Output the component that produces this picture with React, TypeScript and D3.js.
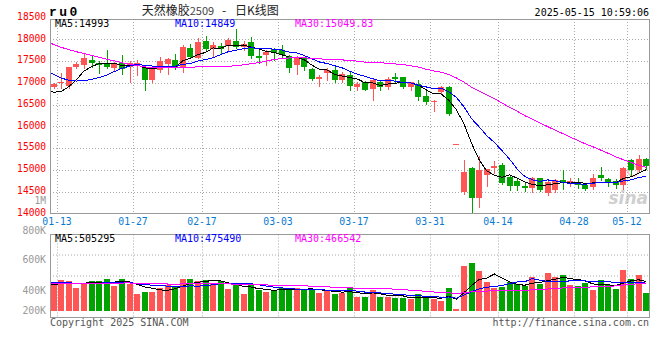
import React from "react";
import * as d3 from "d3";

// ---------- data ----------
const dates = [
  "01-13","01-14","01-15","01-16","01-17","01-20","01-21","01-22","01-23","01-24",
  "01-27","02-05","02-06","02-07","02-10","02-11","02-12","02-13","02-14","02-17",
  "02-18","02-19","02-20","02-21","02-24","02-25","02-26","02-27","02-28","03-03",
  "03-04","03-05","03-06","03-07","03-10","03-11","03-12","03-13","03-14","03-17",
  "03-18","03-19","03-20","03-21","03-24","03-25","03-26","03-27","03-28","03-31",
  "04-01","04-02","04-03","04-07","04-08","04-09","04-10","04-11","04-14","04-15",
  "04-16","04-17","04-18","04-21","04-22","04-23","04-24","04-25","04-28","04-29",
  "04-30","05-06","05-07","05-08","05-09","05-12","05-13","05-14","05-15",
];

const open = [
  16910,16995,16935,17375,17400,17535,17450,17450,17350,17460,
  17375,17415,17335,17055,17300,17430,17525,17330,17810,17565,
  17970,17780,17845,17855,17970,17815,17930,17625,17640,17770,
  17755,17620,17415,17565,17320,17085,17225,17300,17055,17185,
  16895,17015,16865,17010,16905,17125,17125,16905,16970,16705,
  16560,16780,16905,15585,14485,15040,14345,14885,15055,15105,
  14840,14750,14625,14595,14810,14460,14545,14770,14690,14710,
  14660,14610,14880,14785,14750,14645,15220,14995,15260,
];
const high = [
  16995,17225,17375,17470,17680,17640,17500,17755,17490,17640,
  17500,17520,17410,17375,17595,17560,17655,17870,17885,18020,
  18080,17945,17910,18020,18235,17960,18050,17755,17755,17810,
  17870,17650,17620,17605,17350,17185,17335,17360,17245,17260,
  17030,17045,17110,17045,17125,17220,17145,17030,17070,16805,
  16615,16920,16935,15585,15220,15060,15320,15030,15205,15170,
  14865,14825,14710,14840,14825,14750,14785,15000,14825,14810,
  14695,14900,15075,14825,14785,15070,15245,15335,15280,
];
const low = [
  16880,16880,16880,17330,17350,17375,17220,17335,17300,17210,
  17030,17170,16830,17015,17260,17200,17315,17260,17565,17560,
  17740,17620,17680,17755,17795,17755,17565,17465,17415,17525,
  17605,17260,17205,17300,17070,16920,17055,17010,17015,16840,
  16825,16825,16615,16840,16865,17030,16880,16840,16615,16525,
  16360,16765,16270,15585,14445,14040,14155,14635,14925,14675,
  14535,14545,14520,14485,14520,14430,14485,14560,14635,14595,
  14545,14560,14765,14635,14595,14565,14880,14960,15030,
];
const close = [
  16970,17010,17360,17435,17580,17460,17400,17375,17435,17320,
  17450,17465,17055,17315,17500,17540,17350,17815,17605,17945,
  17770,17870,17780,17975,17830,17890,17625,17575,17700,17695,
  17640,17350,17580,17375,17095,17145,17285,17055,17200,16920,
  16980,16840,17055,16895,17095,17085,16895,17015,16665,16555,
  16590,16905,16285,15585,14955,14345,15000,15015,15090,14705,
  14625,14625,14580,14810,14545,14725,14765,14710,14750,14660,
  14565,14825,14810,14695,14645,15055,15000,15245,15090,
];
// volume, thousands of lots
const volume = [
  474,507,497,430,484,497,497,517,450,517,
  474,370,390,390,430,457,447,517,517,497,
  507,484,497,417,457,370,457,414,390,397,
  427,430,430,407,414,380,397,374,380,430,
  340,340,414,340,340,330,330,317,370,330,
  317,297,430,217,650,680,600,490,434,440,
  490,474,450,540,474,580,540,557,460,447,
  484,407,507,460,417,607,517,557,380,
];
// sessions before the first visible day (only feed the moving averages)
const priorCloses = [
  19050,19000,18950,18900,18850,18800,18700,18650,18600,18580,
  18600,18200,18000,17800,17600,17500,17450,17500,17550,17650,
  17650,17900,17800,17670,17450,17220,16950,16800,16650,16560,
];
const priorVolumes = [
  470,460,480,450,470,490,455,475,465,480,
  460,470,485,450,475,465,480,460,470,455,
  485,500,520,490,510,500,450,470,460,466,
];

const priceTicks = [14000,14500,15000,15500,16000,16500,17000,17500,18000,18500];
const dateTicks = ["01-13","01-27","02-17","03-03","03-17","03-31","04-14","04-28","05-12"];
const volTicks = [200000,400000,600000,800000];
const volTickLabels = ["200K","400K","600K","800K"];
const maPeriods = [5, 10, 30];
const maColors = ["#000000", "#0000ff", "#ff00ff"];
const priceLegend = ["MA5:14993", "MA10:14849", "MA30:15049.83"];
const volLegend = ["MA5:505295", "MA10:475490", "MA30:466542"];

const UP = "#ff5555";
const DOWN = "#00a300";
const MONO = "'DejaVu Sans Mono', 'Liberation Mono', monospace";

export default function App() {
  const W = 660, H = 360;
  const L = 50, R = 649;
  const mainTop = 19, mainBottom = 213.5;
  const volTop = 234.5, volBottom = 317.5;
  const volBase = 311;

  const n = dates.length;
  const x = d3.scaleLinear().domain([0, n - 1]).range([53.5, 646.3]);
  const half = (x(1) - x(0)) / 2;
  const y = d3.scaleLinear().domain([14000, 18000]).range([213.5, 39.3]);
  const yv = d3.scaleLinear().domain([200000, 800000]).range([volBase, volBase - 60]);
  const volLabelY = d3.scaleLinear().domain(volTicks).range([314, 294, 263.3, 234]);
  const legendX = d3.scalePoint<number>().domain([0, 1, 2]).range([55, 295]);

  const snap = (v: number) => Math.round(v) + 0.5;

  const closesAll = [...priorCloses, ...close];
  const volsAll = [...priorVolumes, ...volume].map((v) => v * 1000);
  const P = priorCloses.length;
  const movingAvg = (series: number[], p: number) =>
    d3.range(-1, n).map((i) => {
      const j = i + P;
      return [i, d3.mean(series.slice(j - p + 1, j + 1)) as number] as [number, number];
    });

  const priceLine = d3.line<[number, number]>().x((d) => x(d[0])).y((d) => y(d[1]));
  const volLine = d3.line<[number, number]>().x((d) => x(d[0])).y((d) => yv(d[1]));

  const gridX = dateTicks.map((t) => snap(x(dates.indexOf(t)) + half));
  const volGridY = d3.range(1, 4).map((k) => snap(volTop + ((volBottom - volTop) * k) / 4) - 0.5);

  return (
    <svg
      width={W}
      height={H}
      viewBox={`0 0 ${W} ${H}`}
      style={{ position: "absolute", left: 0, top: 0, background: "#fff" }}
    >
      <defs>
        <clipPath id="mainClip">
          <rect x={L + 0.5} y={mainTop} width={R - L - 0.5} height={mainBottom - mainTop} />
        </clipPath>
        <clipPath id="volClip">
          <rect x={L + 0.5} y={volTop} width={R - L - 0.5} height={volBottom - volTop} />
        </clipPath>
      </defs>
      <rect x={0} y={0} width={W} height={H} fill="#fff" />

      {/* header */}
      <text x={49} y={15.7} fontFamily="'Liberation Mono', monospace" fontWeight="bold" fontSize={13} letterSpacing={2.4} fill="#000">
        ru0
      </text>
      <text x={141.7} y={14.5} fontFamily="'Noto Sans CJK SC', sans-serif" fontSize={12} fill="#222">
        天然橡胶<tspan fontSize={11} fill="#444">2509</tspan>
      </text>
      <text x={222} y={14.5} fontFamily="'Noto Sans CJK SC', sans-serif" fontSize={12} fill="#222">-</text>
      <text x={235} y={14.5} fontFamily="'Noto Sans CJK SC', sans-serif" fontSize={12} fill="#222">日K线图</text>
      <text x={649} y={15.7} textAnchor="end" fontFamily={MONO} fontSize={10} fill="#000">
        2025-05-15 10:59:06
      </text>

      {/* main panel grid */}
      {priceTicks
        .filter((v) => v > 14000 && v < 18500)
        .map((v) => (
          <line key={"hg" + v} x1={L} x2={R} y1={snap(y(v))} y2={snap(y(v))} stroke="#aaa" strokeDasharray="1,2" />
        ))}
      {gridX.map((gx, k) => (
        <line key={"vg" + k} x1={gx} x2={gx} y1={mainTop} y2={mainBottom} stroke="#aaa" strokeDasharray="1,2" />
      ))}

      {/* volume grid */}
      {volGridY.map((gy, k) => (
        <line key={"vhg" + k} x1={L} x2={R} y1={gy} y2={gy} stroke="#aaa" strokeDasharray="1,2" />
      ))}
      {gridX.map((gx, k) => (
        <line key={"vvg" + k} x1={gx} x2={gx} y1={volTop} y2={volBottom} stroke="#aaa" strokeDasharray="1,2" />
      ))}

      {/* watermark */}
      <g opacity={0.7}>
        <circle cx={633} cy={171} r={5} fill="none" stroke="#f0b0b0" strokeWidth={2} />
        <text x={648} y={204} textAnchor="end" fontFamily="'DejaVu Sans', sans-serif" fontStyle="italic" fontWeight="bold" fontSize={17} fill="#bbb">
          sina
        </text>
      </g>

      {/* candles */}
      <g>
        {dates.map((d, i) => {
          const o = open[i], c = close[i], h = high[i], l = low[i];
          const col = c >= o ? UP : DOWN;
          const cx = Math.round(x(i));
          const top = Math.round(y(Math.max(o, c)));
          const bot = Math.round(y(Math.min(o, c)));
          return (
            <g key={"c" + d}>
              <line x1={cx + 0.5} x2={cx + 0.5} y1={Math.round(y(h))} y2={Math.round(y(l)) + 1} stroke={col} />
              <rect x={cx - 3} y={top} width={6} height={Math.max(1, bot - top)} fill={col} />
            </g>
          );
        })}
      </g>

      {/* price MAs */}
      <g clipPath="url(#mainClip)">
        {maPeriods.map((p, k) => (
          <path key={"ma" + p} d={priceLine(movingAvg(closesAll, p)) || ""} fill="none" stroke={maColors[k]} strokeWidth={1} shapeRendering="crispEdges" />
        ))}
      </g>

      {/* volume bars */}
      <g>
        {dates.map((d, i) => {
          const col = close[i] >= open[i] ? UP : DOWN;
          const cx = Math.round(x(i));
          const top = Math.round(yv(volume[i] * 1000));
          return <rect key={"v" + d} x={cx - 3} y={top} width={6} height={Math.max(1, volBase - top)} fill={col} />;
        })}
      </g>
      <g clipPath="url(#volClip)">
        {maPeriods.map((p, k) => (
          <path key={"vma" + p} d={volLine(movingAvg(volsAll, p)) || ""} fill="none" stroke={maColors[k]} strokeWidth={1} shapeRendering="crispEdges" />
        ))}
      </g>

      {/* frames */}
      <rect x={L + 0.5} y={mainTop + 0.5} width={R - L} height={mainBottom - mainTop - 0.5} fill="none" stroke="#999" />
      <rect x={L + 0.5} y={volTop} width={R - L} height={volBottom - volTop} fill="none" stroke="#999" />

      {/* legends */}
      {priceLegend.map((t, k) => (
        <text key={"pl" + k} x={legendX(k)} y={27} fontFamily={MONO} fontSize={10} fill={maColors[k]}>
          {t}
        </text>
      ))}
      {volLegend.map((t, k) => (
        <text key={"vl" + k} x={legendX(k)} y={241.7} fontFamily={MONO} fontSize={10} fill={maColors[k]}>
          {t}
        </text>
      ))}

      {/* price axis labels */}
      {priceTicks.map((v) => (
        <text key={"pt" + v} x={46} y={y(v) + 2.2} textAnchor="end" fontFamily={MONO} fontSize={9.6} fill="#ff0000">
          {v}
        </text>
      ))}
      <text x={46} y={204} textAnchor="end" fontFamily={MONO} fontSize={9.6} fill="#999">1M</text>

      {/* date labels */}
      {dateTicks.map((t, k) => (
        <text key={"dt" + t} x={gridX[k] - 0.5} y={225} textAnchor="middle" fontFamily={MONO} fontSize={9.8} fill="#0a7ad0">
          {t}
        </text>
      ))}

      {/* volume axis labels */}
      {volTicks.map((v, k) => (
        <text key={"vt" + v} x={46} y={volLabelY(v)} textAnchor="end" fontFamily={MONO} fontSize={9.8} fill="#999">
          {volTickLabels[k]}
        </text>
      ))}

      {/* footer */}
      <text x={50} y={326} fontFamily={MONO} fontSize={10} fill="#555">Copyright 2025 SINA.COM</text>
      <text x={649} y={326} textAnchor="end" fontFamily={MONO} fontSize={10} fill="#555">http://finance.sina.com.cn</text>
    </svg>
  );
}
